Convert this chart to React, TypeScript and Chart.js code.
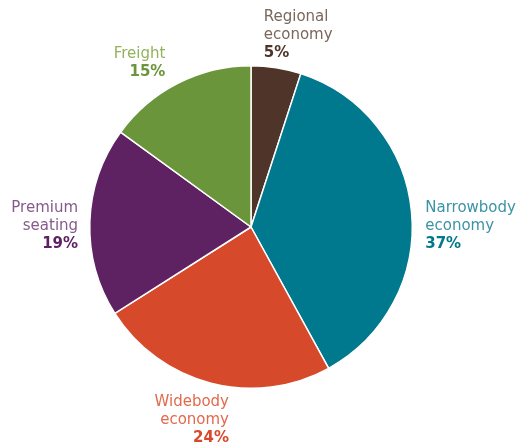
import React, { useEffect, useRef } from "react";
import { Chart, registerables } from "chart.js";

Chart.register(...registerables);

const categories = ["Regional economy", "Narrowbody economy", "Widebody economy", "Premium seating", "Freight"];
const labelLines = [["Regional", "economy"], ["Narrowbody", "economy"], ["Widebody", "economy"], ["Premium", "seating"], ["Freight"]];
const values = [5, 37, 24, 19, 15];
const sliceColors = ["#4f3429", "#00788d", "#d6492b", "#5e2262", "#6b953b"];
const nameColors = ["#7a675c", "#3b93a5", "#e2694d", "#865a8a", "#93b25c"];
const pctColors = ["#4f3429", "#00788d", "#d6492b", "#5e2262", "#6b953b"];

// label placement: [align, radial gap, dx, dy]
const labelPlace: [CanvasTextAlign, number, number, number][] = [
  ["left", 190, -17, -4],
  ["left", 170, 5, 15],
  ["right", 185, 24, 14],
  ["right", 172, -1, 5],
  ["right", 182, -3, -2],
];

const labelPlugin = {
  id: "outerLabels",
  afterDatasetsDraw(chart: any) {
    const { ctx } = chart;
    const meta = chart.getDatasetMeta(0);
    const total = values.reduce((a, b) => a + b, 0);
    meta.data.forEach((arc: any, i: number) => {
      const mid = (arc.startAngle + arc.endAngle) / 2;
      const [align, r, dx, dy] = labelPlace[i];
      const x = arc.x + Math.cos(mid) * r + dx;
      const y = arc.y + Math.sin(mid) * r + dy;
      const lines = labelLines[i];
      const lh = 18;
      ctx.save();
      ctx.textAlign = align;
      ctx.textBaseline = "middle";
      const n = lines.length + 1;
      let yy = y - ((n - 1) * lh) / 2;
      ctx.font = "15px 'DejaVu Sans'";
      ctx.fillStyle = nameColors[i];
      lines.forEach((l) => {
        ctx.fillText(l, x, yy);
        yy += lh;
      });
      ctx.font = "bold 15px 'DejaVu Sans'";
      ctx.fillStyle = pctColors[i];
      ctx.fillText(Math.round((values[i] / total) * 100) + "%", x, yy);
      ctx.restore();
    });
  },
};

export default function App() {
  const ref = useRef<HTMLCanvasElement>(null);
  useEffect(() => {
    document.body.style.margin = "0";
    const chart = new Chart(ref.current!, {
      type: "pie",
      data: {
        labels: categories,
        datasets: [
          {
            data: values,
            backgroundColor: sliceColors,
            borderColor: "#ffffff",
            borderWidth: 1.5,
          },
        ],
      },
      options: {
        responsive: false,
        animation: false,
        layout: { padding: { left: 89, right: 108, top: 65, bottom: 56 } },
        plugins: { legend: { display: false }, tooltip: { enabled: false } },
      },
      plugins: [labelPlugin],
    });
    return () => chart.destroy();
  }, []);
  return (
    <div style={{ width: 521, height: 445, background: "#fff" }}>
      <canvas ref={ref} width={521} height={445} />
    </div>
  );
}
